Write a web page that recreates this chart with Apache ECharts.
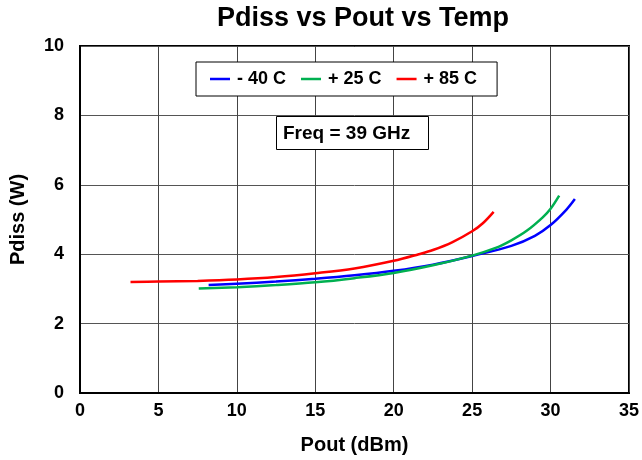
<!DOCTYPE html>
<html>
<head>
<meta charset="utf-8">
<script src="https://cdn.jsdelivr.net/npm/echarts@6/dist/echarts.min.js"></script>
<style>html,body{margin:0;padding:0;background:#fff}#c{width:642px;height:460px}</style>
</head>
<body>
<div id="c"></div>
<script>
const seriesNames = ['- 40 C', '+ 25 C', '+ 85 C'];
const seriesColors = ['#0000FF', '#00B050', '#FF0000'];
const m40 = [[8.2,3.11],[10,3.15],[12.5,3.21],[15,3.29],[17.5,3.39],[20,3.52],[22.5,3.70],[25,3.95],[27.5,4.24],[29,4.53],[30,4.84],[31,5.28],[31.55,5.59]];
const p25 = [[7.57,3.01],[10,3.05],[12.5,3.11],[15,3.19],[17.5,3.31],[20,3.46],[22.5,3.68],[25,3.96],[26.5,4.18],[27.5,4.40],[28.5,4.68],[29.5,5.06],[30,5.31],[30.55,5.69]];
const p85 = [[3.22,3.20],[5,3.21],[7.5,3.23],[10,3.27],[12.5,3.34],[15,3.45],[17.5,3.59],[20,3.81],[21.6,4.00],[22.5,4.12],[23.75,4.35],[25,4.66],[25.7,4.90],[26.37,5.22]];
const seriesData = [m40, p25, p85];
const xTicks = {min: 0, max: 35, interval: 5};
const yTicks = {min: 0, max: 10, interval: 2};
const font = 'Liberation Sans, Arial, sans-serif';

const chart = echarts.init(document.getElementById('c'));
chart.setOption({
  animation: false,
  backgroundColor: '#fff',
  title: [
    {text: 'Pdiss vs Pout vs Temp', left: 217, top: 5, padding: 0,
     textStyle: {fontFamily: font, fontWeight: 'bold', fontSize: 27, color: '#000'}},
    {text: 'Freq = 39 GHz', left: 276, top: 116, padding: [8, 19, 7, 7],
     borderColor: '#000', borderWidth: 1, backgroundColor: '#fff',
     textStyle: {fontFamily: font, fontWeight: 'bold', fontSize: 19, color: '#000'}}
  ],
  legend: {
    left: 196, top: 62, padding: [8, 20, 8, 14], itemGap: 15,
    borderColor: '#000', borderWidth: 1, backgroundColor: '#fff',
    icon: 'rect', itemWidth: 20, itemHeight: 2.5,
    textStyle: {fontFamily: font, fontWeight: 'bold', fontSize: 18, color: '#000', padding: [0,0,0,2]},
    data: seriesNames
  },
  grid: {left: 80, right: 12, top: 46, bottom: 65, show: true, borderColor: '#000', borderWidth: 2},
  xAxis: {
    type: 'value', min: xTicks.min, max: xTicks.max, interval: xTicks.interval,
    name: 'Pout (dBm)', nameLocation: 'middle', nameGap: 42,
    nameTextStyle: {fontFamily: font, fontWeight: 'bold', fontSize: 20, color: '#000'},
    axisLine: {lineStyle: {color: '#000', width: 2}},
    axisTick: {show: false},
    axisLabel: {fontFamily: font, fontWeight: 'bold', fontSize: 18, color: '#000', margin: 9},
    splitLine: {lineStyle: {color: '#444', width: 1}}
  },
  yAxis: {
    type: 'value', min: yTicks.min, max: yTicks.max, interval: yTicks.interval,
    name: 'Pdiss (W)', nameLocation: 'middle', nameGap: 52,
    nameTextStyle: {fontFamily: font, fontWeight: 'bold', fontSize: 20, color: '#000'},
    axisLine: {lineStyle: {color: '#000', width: 2}},
    axisTick: {show: false},
    axisLabel: {fontFamily: font, fontWeight: 'bold', fontSize: 18, color: '#000', margin: 16},
    splitLine: {lineStyle: {color: '#555', width: 1}}
  },
  series: seriesNames.map((n, i) => ({
    name: n, type: 'line', data: seriesData[i], smooth: 0.35, showSymbol: false,
    itemStyle: {color: seriesColors[i]},
    lineStyle: {color: seriesColors[i], width: 2.5}
  }))
});
</script>
</body>
</html>
